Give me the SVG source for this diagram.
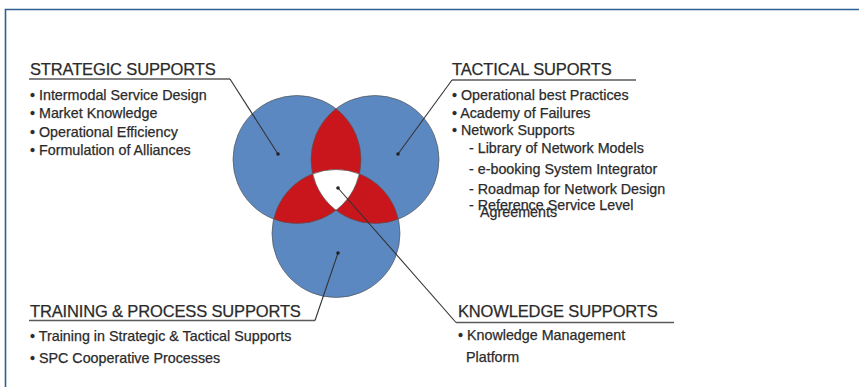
<svg xmlns="http://www.w3.org/2000/svg" width="859" height="387" viewBox="0 0 859 387">
<style>
.h{font-family:"Liberation Sans",Arial,sans-serif;font-size:16.5px;fill:#2b2b2b;stroke:#2b2b2b;stroke-width:0.25;letter-spacing:-0.15px}
.t{font-family:"Liberation Sans",Arial,sans-serif;font-size:14.3px;fill:#2b2b2b;stroke:#2b2b2b;stroke-width:0.25}
.ul{stroke:#5a5a5a;stroke-width:1.6;fill:none}
.ln{stroke:#333;stroke-width:1.1;fill:none}
.dot{fill:#222}
.blue{fill:#5c88c2}
.red{fill:#c8161c}
.ring{fill:none;stroke:#555;stroke-width:0.7}
</style>
<defs>
<clipPath id="cA"><circle cx="297" cy="159.5" r="64"/></clipPath>
<clipPath id="cB"><circle cx="375" cy="159.5" r="64"/></clipPath>
<clipPath id="cC"><circle cx="336" cy="233.5" r="64"/></clipPath>
</defs>
<rect x="0" y="0" width="859" height="387" fill="#fff"/>
<path d="M5.5,387 V9.5 H859" fill="none" stroke="#2d5f93" stroke-width="1.6"/>

<g id="venn">
<circle class="blue" cx="297" cy="159.5" r="64"/>
<circle class="blue" cx="375" cy="159.5" r="64"/>
<circle class="blue" cx="336" cy="233.5" r="64"/>
<circle class="red" cx="375" cy="159.5" r="64" clip-path="url(#cA)"/>
<circle class="red" cx="336" cy="233.5" r="64" clip-path="url(#cA)"/>
<circle class="red" cx="336" cy="233.5" r="64" clip-path="url(#cB)"/>
<g clip-path="url(#cA)"><g clip-path="url(#cB)"><circle cx="336" cy="233.5" r="64" fill="#fff"/></g></g>
<circle class="ring" cx="297" cy="159.5" r="64"/>
<circle class="ring" cx="375" cy="159.5" r="64"/>
<circle class="ring" cx="336" cy="233.5" r="64"/>
</g>

<g id="connectors">
<path class="ul" d="M29,79 H230"/>
<path class="ln" d="M230,79 L278,154"/>
<path class="ul" d="M452,80 H636"/>
<path class="ln" d="M452,80 L398,154"/>
<path class="ul" d="M29,320.5 H315"/>
<path class="ln" d="M315,320.5 L338,253"/>
<path class="ul" d="M456,322.5 H674"/>
<path class="ln" d="M456,322.5 L338,188"/>
<circle class="dot" cx="278" cy="154" r="1.8"/>
<circle class="dot" cx="398" cy="154" r="1.8"/>
<circle class="dot" cx="338" cy="188" r="1.8"/>
<circle class="dot" cx="338" cy="253" r="1.8"/>
</g>

<g id="strategic">
<text class="h" x="30" y="75">STRATEGIC SUPPORTS</text>
<text class="t" x="30" y="99.5">• Intermodal Service Design</text>
<text class="t" x="30" y="118">• Market Knowledge</text>
<text class="t" x="30" y="136.5">• Operational Efficiency</text>
<text class="t" x="30" y="155">• Formulation of Alliances</text>
</g>

<g id="tactical">
<text class="h" x="452" y="75">TACTICAL SUPORTS</text>
<text class="t" x="452" y="100">• Operational best Practices</text>
<text class="t" x="452" y="117.5">• Academy of Failures</text>
<text class="t" x="452" y="135">• Network Supports</text>
<text class="t" x="469" y="153">- Library of Network Models</text>
<text class="t" x="469" y="173.5">- e-booking System Integrator</text>
<text class="t" x="469" y="193.5">- Roadmap for Network Design</text>
<text class="t" x="469" y="209.5">- Reference Service Level</text>
<text class="t" x="480" y="217">Agreements</text>
</g>

<g id="training">
<text class="h" x="30" y="317">TRAINING &amp; PROCESS SUPPORTS</text>
<text class="t" x="30" y="341">• Training in Strategic &amp; Tactical Supports</text>
<text class="t" x="30" y="363">• SPC Cooperative Processes</text>
</g>

<g id="knowledge">
<text class="h" x="458" y="317">KNOWLEDGE SUPPORTS</text>
<text class="t" x="458" y="339.5">• Knowledge Management</text>
<text class="t" x="466" y="362">Platform</text>
</g>
</svg>
